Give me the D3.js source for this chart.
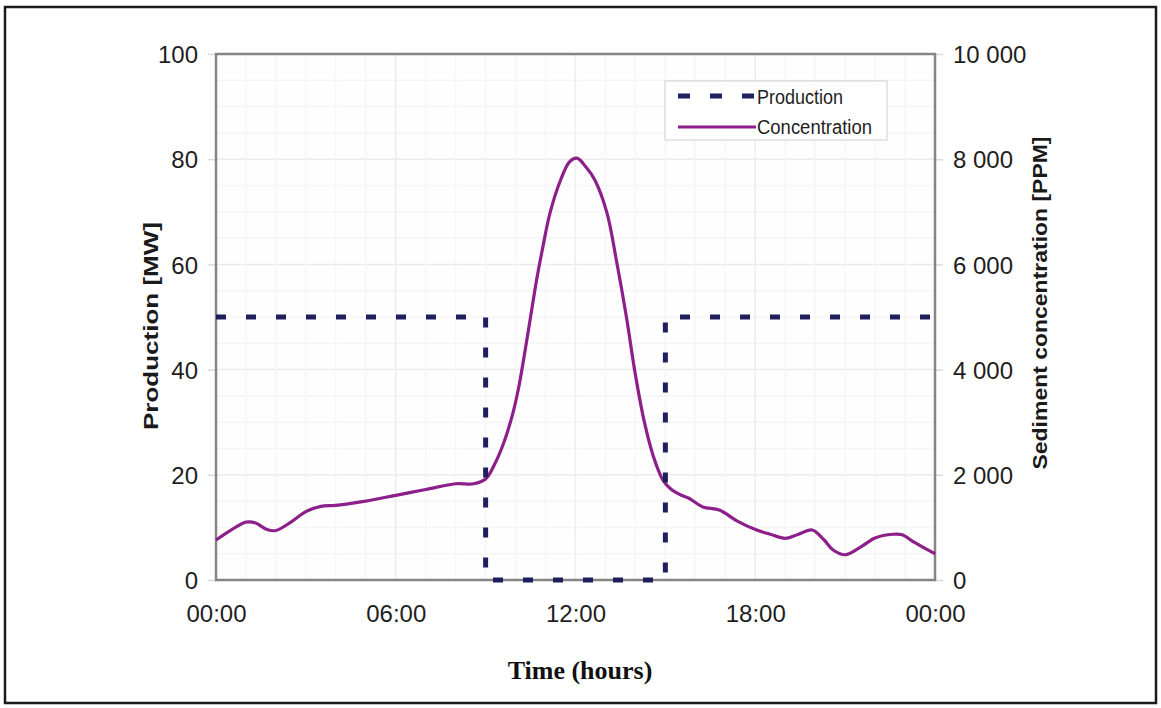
<!DOCTYPE html>
<html>
<head>
<meta charset="utf-8">
<script src="https://cdn.jsdelivr.net/npm/d3@7"></script>
<style>
  html, body { margin: 0; padding: 0; background: #ffffff; }
  svg { display: block; }
</style>
</head>
<body>
<svg id="chart" width="1161" height="708"></svg>
<script>
// ---------------- data ----------------
const productionHours = [0, 9, 9, 15, 15, 24];
const productionMW    = [50, 50, 0, 0, 50, 50];

const concHours = [0, 0.5, 1.0, 1.3, 1.7, 2.0, 2.5, 3.0, 3.5, 4.0, 5.0, 6.0, 7.0, 8.0, 8.6, 9.0,
  9.3, 9.6, 9.9, 10.1, 10.3, 10.5, 10.7, 10.9, 11.15, 11.5, 11.8, 12.05, 12.35, 12.65, 13.05, 13.38,
  13.7, 14.0, 14.3, 14.6, 14.92, 15.2, 15.5, 15.8, 16.25, 16.8, 17.4, 18.05, 18.5, 19.0, 19.4, 19.9,
  20.3, 20.6, 21.0, 21.5, 22.0, 22.6, 22.9, 23.3, 23.93, 24];
const concPPM = [760, 950, 1100, 1090, 960, 940, 1100, 1300, 1400, 1420, 1500, 1610, 1720, 1830, 1830, 1920,
  2200, 2600, 3150, 3650, 4300, 5000, 5700, 6300, 6980, 7600, 7950, 8020, 7850, 7600, 6980, 6030,
  5000, 3900, 3000, 2350, 1900, 1720, 1620, 1550, 1390, 1330, 1120, 950, 870, 790, 860, 950,
  760, 570, 480, 620, 800, 870, 860, 720, 520, 500];

const xTickHours  = [0, 6, 12, 18, 24];
const xTickLabels = ["00:00", "06:00", "12:00", "18:00", "00:00"];
const leftTicks   = [0, 20, 40, 60, 80, 100];
const rightTicks  = [0, 2000, 4000, 6000, 8000, 10000];

const seriesNames = ["Production", "Concentration"];
const leftTitle   = "Production [MW]";
const rightTitle  = "Sediment concentration [PPM]";
const xTitle      = "Time (hours)";

// ---------------- layout ----------------
const svg = d3.select("#chart");
const X0 = 216, X1 = 935, Y0 = 54, Y1 = 580;

const x  = d3.scaleLinear().domain([0, 24]).range([X0, X1]);
const yL = d3.scaleLinear().domain([0, 100]).range([Y1, Y0]);
const yR = d3.scaleLinear().domain([0, 10000]).range([Y1, Y0]);

const spaceLocale = d3.formatLocale({decimal: ".", thousands: " ", grouping: [3], currency: ["", ""]});
const fmtR = spaceLocale.format(",");

// outer frame
svg.append("rect").attr("x", 5).attr("y", 7).attr("width", 1151).attr("height", 696)
  .attr("fill", "#ffffff").attr("stroke", "#1a1a1a").attr("stroke-width", 2.5);

// plot background
svg.append("rect").attr("x", X0).attr("y", Y0).attr("width", X1 - X0).attr("height", Y1 - Y0)
  .attr("fill", "#fefefe");

// gridlines
const grid = svg.append("g");
d3.range(0, 101, 5).forEach(v => {
  grid.append("line").attr("x1", X0).attr("x2", X1).attr("y1", yL(v)).attr("y2", yL(v))
    .attr("stroke", v % 20 === 0 ? "#ebebeb" : "#f5f5f5").attr("stroke-width", 1.5);
});
d3.range(1, 24, 1).forEach(h => {
  grid.append("line").attr("x1", x(h)).attr("x2", x(h)).attr("y1", Y0).attr("y2", Y1)
    .attr("stroke", h % 6 === 0 ? "#ededed" : "#f6f6f6").attr("stroke-width", 1.5);
});

// axes
const font = "'Liberation Sans', Arial, sans-serif";
const gL = svg.append("g").attr("transform", `translate(${X0},0)`)
  .call(d3.axisLeft(yL).tickValues(leftTicks).tickSize(8).tickPadding(10).tickFormat(d3.format("d")));
const gR = svg.append("g").attr("transform", `translate(${X1},0)`)
  .call(d3.axisRight(yR).tickValues(rightTicks).tickSize(8).tickPadding(10).tickFormat(fmtR));
const gB = svg.append("g").attr("transform", `translate(0,${Y1})`)
  .call(d3.axisBottom(x).tickValues(xTickHours).tickSize(0).tickPadding(42)
    .tickFormat((d, i) => xTickLabels[i]));

[gL, gR, gB].forEach(g => {
  g.select(".domain").remove();
  g.selectAll(".tick line").attr("stroke", "#dadada").attr("stroke-width", 1.5);
  g.selectAll(".tick text").attr("font-family", font).attr("font-size", 24).attr("fill", "#1e1e1e");
});
gL.selectAll(".tick text").attr("dy", "0.36em");
gR.selectAll(".tick text").attr("dy", "0.36em");
gB.selectAll(".tick text").attr("dy", "0");

// plot frame
svg.append("rect").attr("x", X0).attr("y", Y0).attr("width", X1 - X0).attr("height", Y1 - Y0)
  .attr("fill", "none").attr("stroke", "#858585").attr("stroke-width", 2.5);

// concentration line
const concData = concHours.map((h, i) => ({h, v: concPPM[i]}));
const concLine = d3.line().x(d => x(d.h)).y(d => yR(d.v)).curve(d3.curveCatmullRom.alpha(0.5));
svg.append("path").datum(concData).attr("d", concLine)
  .attr("fill", "none").attr("stroke", "#8c1f8a").attr("stroke-width", 3.2)
  .attr("stroke-linejoin", "round");

// production line
const prodData = productionHours.map((h, i) => ({h, v: productionMW[i]}));
const prodLine = d3.line().x(d => x(d.h)).y(d => yL(d.v));
svg.append("path").datum(prodData).attr("d", prodLine)
  .attr("fill", "none").attr("stroke", "#1f1f5e").attr("stroke-width", 5)
  .attr("stroke-dasharray", "10,20");

// legend
const lg = svg.append("g");
lg.append("rect").attr("x", 665).attr("y", 81).attr("width", 222).attr("height", 59)
  .attr("fill", "#ffffff").attr("stroke", "#d5d5d5").attr("stroke-width", 1.2);
lg.append("line").attr("x1", 678).attr("x2", 756).attr("y1", 96).attr("y2", 96)
  .attr("stroke", "#1f1f5e").attr("stroke-width", 5).attr("stroke-dasharray", "12,20");
lg.append("line").attr("x1", 678).attr("x2", 756).attr("y1", 127).attr("y2", 127)
  .attr("stroke", "#8c1f8a").attr("stroke-width", 3.2);
lg.append("text").attr("x", 757).attr("y", 104).text(seriesNames[0])
  .attr("font-family", font).attr("font-size", 20).attr("fill", "#1e1e1e")
  .attr("textLength", 86).attr("lengthAdjust", "spacingAndGlyphs");
lg.append("text").attr("x", 757).attr("y", 134).text(seriesNames[1])
  .attr("font-family", font).attr("font-size", 20).attr("fill", "#1e1e1e")
  .attr("textLength", 115).attr("lengthAdjust", "spacingAndGlyphs");

// axis titles
svg.append("text").attr("transform", "translate(158,326) rotate(-90)")
  .attr("text-anchor", "middle").text(leftTitle)
  .attr("font-family", font).attr("font-weight", "bold").attr("font-size", 21).attr("fill", "#1a1a1a")
  .attr("textLength", 208).attr("lengthAdjust", "spacingAndGlyphs");
svg.append("text").attr("transform", "translate(1047,303) rotate(-90)")
  .attr("text-anchor", "middle").text(rightTitle)
  .attr("font-family", font).attr("font-weight", "bold").attr("font-size", 21).attr("fill", "#1a1a1a")
  .attr("textLength", 333).attr("lengthAdjust", "spacingAndGlyphs");
svg.append("text").attr("x", 580).attr("y", 679).attr("text-anchor", "middle").text(xTitle)
  .attr("font-family", "'Liberation Serif', 'Times New Roman', serif").attr("font-weight", "bold")
  .attr("font-size", 26).attr("fill", "#111111");
</script>
</body>
</html>
